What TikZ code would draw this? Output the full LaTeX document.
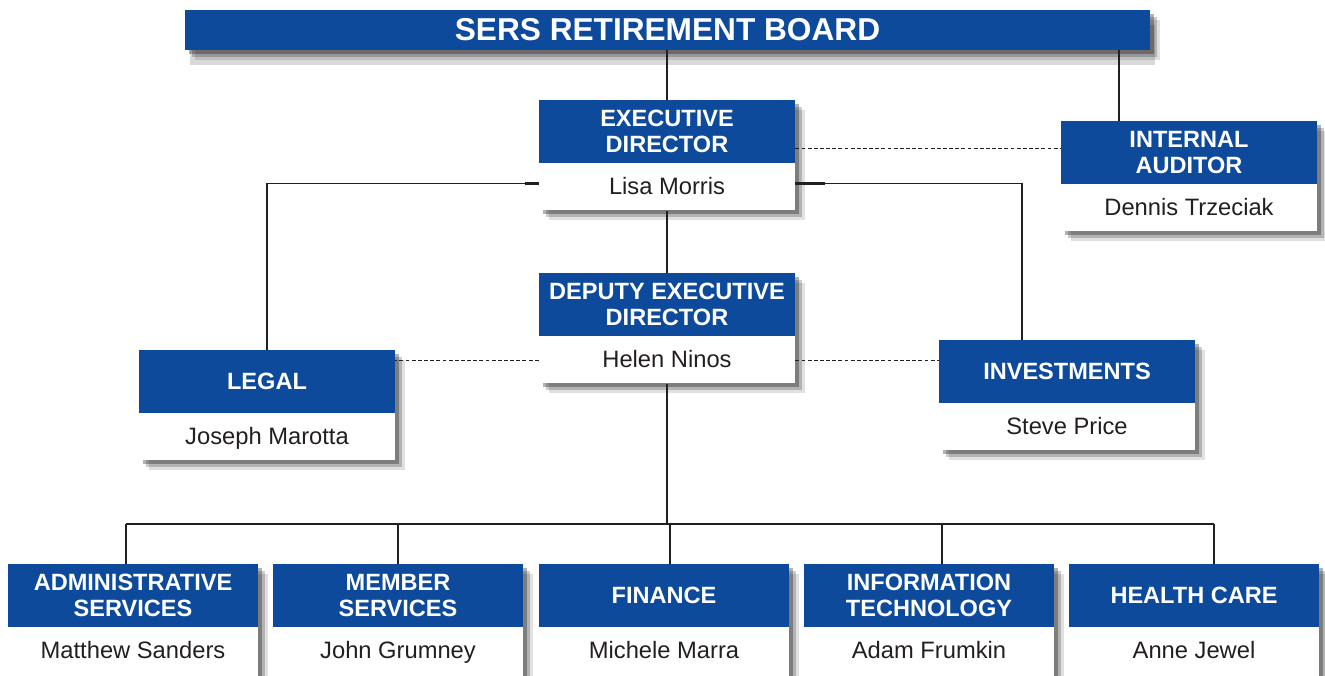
\documentclass[tikz,border=0pt]{standalone}
\usepackage{fontspec}
\setmainfont{Liberation Sans}
\usetikzlibrary{shadows,positioning,calc}
\definecolor{serblue}{RGB}{13,74,156}
\definecolor{ink}{RGB}{35,31,32}
\newcommand{\headfont}{\fontsize{13.4}{14.8}\selectfont\bfseries}
\newcommand{\namefont}{\fontsize{13.5}{16}\selectfont}
\tikzset{
	softshadow/.style={
		general shadow={shadow xshift=0.2cm, shadow yshift=-0.2cm, fill=black, opacity=0.12},
		general shadow={shadow xshift=0.13cm, shadow yshift=-0.13cm, fill=black, opacity=0.2},
		general shadow={shadow xshift=0.07cm, shadow yshift=-0.07cm, fill=black, opacity=0.3}},
	unit/.style={fill=white, inner sep=0pt, minimum width=5.12cm, minimum height=2.2cm, anchor=north, softshadow},
	head/.style={fill=serblue, text=white, font=\headfont, align=center, inner sep=0pt, minimum width=5.12cm, minimum height=1.26cm, anchor=north},
	who/.style={text=ink, font=\namefont, inner sep=0pt, text height=0.97em, text depth=0.22em, minimum width=5.12cm, minimum height=0.94cm},
	narrow/.style={minimum width=5cm},
	link/.style={draw=ink, line width=0.6pt},
	stub/.style={draw=ink, line width=1.5pt},
	dotlink/.style={draw=ink, line width=0.6pt, dash pattern=on 2.2pt off 1.3pt}
}

\begin{document}
\begin{tikzpicture}
	\useasboundingbox (0,0) rectangle (26.5,-13.5);

	\node[fill=serblue, text=white, font=\fontsize{18}{20}\selectfont\bfseries, inner sep=0pt, minimum width=19.3cm, minimum height=0.8cm, softshadow, general shadow={shadow xshift=0.1cm, shadow yshift=-0.3cm, fill=black, opacity=0.15}] (board) at (13.35,-0.6) {SERS RETIREMENT BOARD};

	% executive director
	\node[unit] (ed) at (13.34,-2.0){};
	\node[head] (ed-h) at (ed.north){EXECUTIVE\\DIRECTOR};
	\node[who, below=0pt of ed-h] (ed-w){Lisa Morris};

	% internal auditor
	\node[unit] (aud) at (23.78,-2.42){};
	\node[head] (aud-h) at (aud.north){INTERNAL\\AUDITOR};
	\node[who, below=0pt of aud-h] (aud-w){Dennis Trzeciak};

	% deputy
	\node[unit] (dep) at (13.34,-5.46){};
	\node[head] (dep-h) at (dep.north){DEPUTY EXECUTIVE\\DIRECTOR};
	\node[who, below=0pt of dep-h] (dep-w){Helen Ninos};

	% legal and investments
	\node[unit] (leg) at (5.34,-7.0){};
	\node[head] (leg-h) at (leg.north){LEGAL};
	\node[who, below=0pt of leg-h] (leg-w){Joseph Marotta};

	\node[unit] (inv) at (21.34,-6.8){};
	\node[head] (inv-h) at (inv.north){INVESTMENTS};
	\node[who, below=0pt of inv-h] (inv-w){Steve Price};

	% divisions
	\node[unit, narrow, minimum height=2.5cm] (adm) at (2.66,-11.28){};
	\node[head, narrow] (adm-h) at (adm.north){ADMINISTRATIVE\\SERVICES};
	\node[who, narrow, below=0pt of adm-h] (adm-w){Matthew Sanders};

	\node[unit, narrow, minimum height=2.5cm] (mem) at (7.96,-11.28){};
	\node[head, narrow] (mem-h) at (mem.north){MEMBER\\SERVICES};
	\node[who, narrow, below=0pt of mem-h] (mem-w){John Grumney};

	\node[unit, narrow, minimum height=2.5cm] (fin) at (13.28,-11.28){};
	\node[head, narrow] (fin-h) at (fin.north){FINANCE};
	\node[who, narrow, below=0pt of fin-h] (fin-w){Michele Marra};

	\node[unit, narrow, minimum height=2.5cm] (it) at (18.58,-11.28){};
	\node[head, narrow] (it-h) at (it.north){INFORMATION\\TECHNOLOGY};
	\node[who, narrow, below=0pt of it-h] (it-w){Adam Frumkin};

	\node[unit, narrow, minimum height=2.5cm] (hc) at (23.88,-11.28){};
	\node[head, narrow] (hc-h) at (hc.north){HEALTH CARE};
	\node[who, narrow, below=0pt of hc-h] (hc-w){Anne Jewel};

	% board lines
	\draw[link] (ed-h.north) -- (ed-h.north |- board.south);
	\coordinate (aud-in) at ([xshift=-1.4cm]aud-h.north);
	\draw[link] (aud-in) -- (aud-in |- board.south);
	\coordinate (ed-aux) at ([yshift=-0.33cm]ed-h.east);
	\draw[dotlink] (ed-aux) -- (ed-aux -| aud-h.west);

	% staff lines
	\coordinate (ed-l) at ([yshift=0.08cm]ed-w.west);
	\coordinate (ed-r) at ([yshift=0.08cm]ed-w.east);
	\draw[link] (ed-l) -| (leg-h.north);
	\coordinate (inv-in) at ([xshift=-0.9cm]inv-h.north);
	\draw[link] (ed-r) -| (inv-in);
	\draw[stub] (ed-l) -- ++(-0.28,0);
	\draw[stub] (ed-r) -- ++(0.6,0);
	\draw[stub] (leg-h.north) -- ++(0,0.28);
	\draw[link] (ed-w.south) -- (dep-h.north);
	\draw[dotlink] (dep-w.west) -- (dep-w.west -| leg-h.east);
	\draw[dotlink] (dep-w.east) -- (dep-w.east -| inv-h.west);

	% division bus
	\coordinate (bus) at (13.4,-10.48);
	\draw[link] (dep-w.south) -- (dep-w.south |- bus);
	\foreach \b/\dx in {adm/-0.14, mem/0, fin/0.12, it/0.26, hc/0.4}{
		\coordinate (\b-in) at ([xshift=\dx cm]\b-h.north);
		\draw[link] (\b-in) -- (\b-in |- bus);
		\draw[stub] (\b-in) -- ++(0,0.32);
	}
	\draw[link] (adm-in |- bus) -- (hc-in |- bus);
\end{tikzpicture}
\end{document}
